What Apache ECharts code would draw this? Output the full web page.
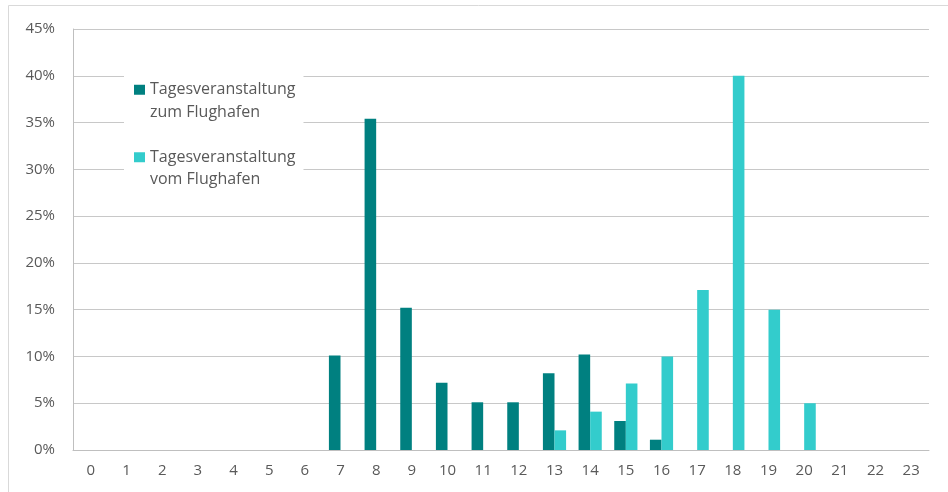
<!DOCTYPE html>
<html>
<head>
<meta charset="utf-8">
<script src="https://cdn.jsdelivr.net/npm/echarts@6/dist/echarts.min.js"></script>
<style>
  html, body { margin: 0; padding: 0; background: #fff; }
  #chart { width: 948px; height: 492px; }
</style>
</head>
<body>
<div id="chart"></div>
<script>
// Stunden 0..23
var hours = ['0','1','2','3','4','5','6','7','8','9','10','11','12','13','14','15','16','17','18','19','20','21','22','23'];
// Anteile in %
var zumFlughafen = [0,0,0,0,0,0,0,10.1,35.4,15.2,7.2,5.1,5.1,8.2,10.2,3.1,1.1,0,0,0,0,0,0,0];
var vomFlughafen = [0,0,0,0,0,0,0,0,0,0,0,0,0,2.1,4.1,7.1,10,17.1,40,15,5,0,0,0];
var seriesNames = ['Tagesveranstaltung\nzum Flughafen', 'Tagesveranstaltung\nvom Flughafen'];

var textColor = '#595959';
var fontFamily = '"Open Sans", "Noto Sans", sans-serif';

var chart = echarts.init(document.getElementById('chart'));
chart.setOption({
  animation: false,
  graphic: [{
    type: 'rect',
    shape: { x: 8.5, y: 5.5, width: 1200, height: 1200 },
    style: { fill: 'none', stroke: '#D9D9D9', lineWidth: 1 }
  }],
  grid: { left: 73, right: 19, top: 29, bottom: 42 },
  legend: {
    orient: 'vertical',
    left: 124,
    top: 51,
    padding: [5, 8, 5, 10],
    backgroundColor: '#fff',
    itemWidth: 11,
    itemHeight: 10,
    itemGap: 0,
    icon: 'rect',
    data: seriesNames,
    // leere erste Zeile, damit das Symbol neben der ersten Textzeile steht
    formatter: function (name) { return '\n' + name; },
    textStyle: {
      color: textColor,
      fontFamily: fontFamily,
      fontSize: 16,
      lineHeight: 22.5
    }
  },
  xAxis: {
    type: 'category',
    data: hours,
    axisLine: { lineStyle: { color: '#BFBFBF' } },
    axisTick: { show: false },
    axisLabel: { color: textColor, fontFamily: fontFamily, fontSize: 15, margin: 13 }
  },
  yAxis: {
    type: 'value',
    min: 0,
    max: 45,
    interval: 5,
    axisLine: { show: true, lineStyle: { color: '#BFBFBF' } },
    axisTick: { show: false },
    splitLine: { lineStyle: { color: '#C8C8C8' } },
    axisLabel: {
      color: textColor, fontFamily: fontFamily, fontSize: 15, margin: 18,
      formatter: function (v) { return v + '%'; }
    }
  },
  series: [{
    name: seriesNames[0],
    type: 'bar',
    data: zumFlughafen,
    barGap: '0%',
    barCategoryGap: '35%',
    itemStyle: { color: '#008080' }
  }, {
    name: seriesNames[1],
    type: 'bar',
    data: vomFlughafen,
    barGap: '0%',
    barCategoryGap: '35%',
    itemStyle: { color: '#33CCCC' }
  }]
});
</script>
</body>
</html>
